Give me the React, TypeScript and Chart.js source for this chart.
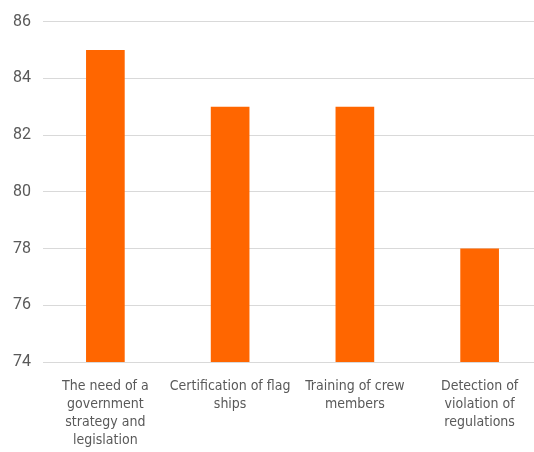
import React, { useEffect, useRef } from "react";
import { Chart, registerables } from "chart.js";

Chart.register(...registerables);

const categories: string[][] = [
  ["The need of a", "government", "strategy and", "legislation"],
  ["Certification of flag", "ships"],
  ["Training of crew", "members"],
  ["Detection of", "violation of", "regulations"],
];
const values: number[] = [85, 83, 83, 78];
const yMin = 74;
const yMax = 86;
const yStep = 2;

const BAR_COLOR = "#FF6600";
const TEXT_COLOR = "#595959";
const GRID_COLOR = "#D9D9D9";

export default function App() {
  const canvasRef = useRef<HTMLCanvasElement | null>(null);

  useEffect(() => {
    if (!canvasRef.current) return;
    const chart = new Chart(canvasRef.current, {
      type: "bar",
      data: {
        labels: categories,
        datasets: [
          {
            data: values,
            backgroundColor: BAR_COLOR,
            borderWidth: 0,
            barPercentage: 0.31,
            categoryPercentage: 1,
          },
        ],
      },
      options: {
        responsive: false,
        animation: false,
        layout: { padding: { top: 20, left: 0, right: 0, bottom: 0 } },
        plugins: {
          legend: { display: false },
          tooltip: { enabled: false },
        },
        scales: {
          x: {
            grid: { display: false },
            border: { display: true, color: GRID_COLOR, width: 1 },
            ticks: {
              color: TEXT_COLOR,
              font: { family: "'Liberation Sans Narrow', 'DejaVu Sans Condensed', sans-serif", size: 14, lineHeight: 1.3 },
              padding: 7,
              maxRotation: 0,
              autoSkip: false,
            },
            afterFit: (scale: any) => {
              scale.height = 90;
            },
          },
          y: {
            min: yMin,
            max: yMax,
            grid: { color: GRID_COLOR, drawTicks: false },
            border: { display: false },
            ticks: {
              stepSize: yStep,
              color: TEXT_COLOR,
              font: { family: "Roboto, 'Noto Sans', sans-serif", size: 16 },
              padding: 12,
            },
            afterFit: (scale: any) => {
              scale.width = 43;
            },
          },
        },
      },
    });
    return () => chart.destroy();
  }, []);

  return (
    <div
      style={{
        position: "fixed",
        left: 0,
        top: 0,
        width: 534,
        height: 452,
        overflow: "hidden",
        background: "#ffffff",
      }}
    >
      <canvas ref={canvasRef} width={542} height={452} style={{ display: "block" }} />
    </div>
  );
}
